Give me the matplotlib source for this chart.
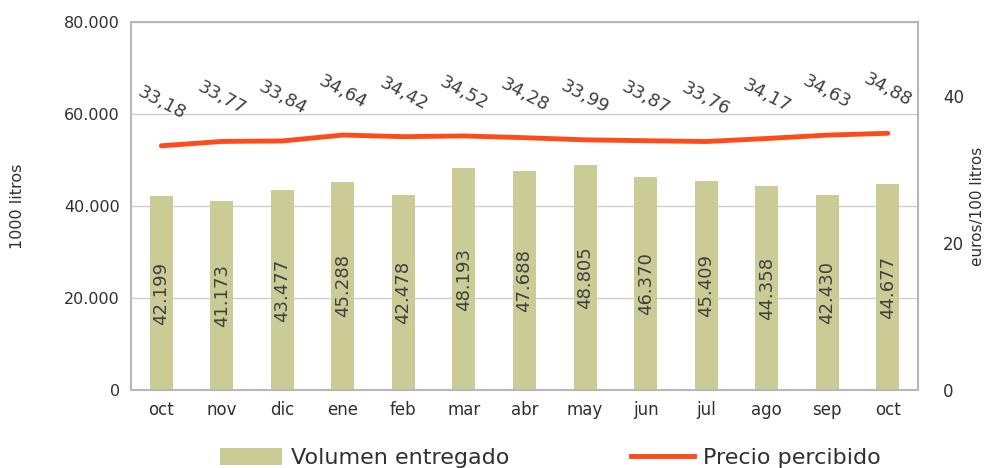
import matplotlib
matplotlib.use("Agg")
import matplotlib.pyplot as plt
from matplotlib.lines import Line2D
from matplotlib.patches import Patch

months = ["oct", "nov", "dic", "ene", "feb", "mar", "abr", "may", "jun", "jul", "ago", "sep", "oct"]
volumen = [42199, 41173, 43477, 45288, 42478, 48193, 47688, 48805, 46370, 45409, 44358, 42430, 44677]
precio = [33.18, 33.77, 33.84, 34.64, 34.42, 34.52, 34.28, 33.99, 33.87, 33.76, 34.17, 34.63, 34.88]

left_ticks = [0, 20000, 40000, 60000, 80000]
left_ticklabels = ["0", "20.000", "40.000", "60.000", "80.000"]
right_ticks = [0, 20, 40]

bar_color = "#CBCB96"
line_color = "#FF4A1C"
text_color = "#303030"
grid_color = "#D0D0D0"
spine_color = "#B8B8B8"

plt.rcParams["font.family"] = ["DejaVu Sans"]

fig = plt.figure(figsize=(9.91, 4.68), dpi=100)
ax = fig.add_axes([131/991, 1 - 390/468, (918-131)/991, (390-22)/468])
x = list(range(len(months)))

ax.bar(x, volumen, width=0.38, color=bar_color, zorder=2)
ax.set_xlim(-0.5, len(months) - 0.5)
ax.set_ylim(0, 80000)
ax.set_yticks(left_ticks)
ax.set_yticklabels(left_ticklabels, fontsize=11.5, color=text_color)
ax.set_xticks(x)
ax.set_xticklabels(months, fontsize=12, color=text_color)
ax.tick_params(axis="both", length=0, pad=8)
ax.yaxis.grid(True, color=grid_color, lw=1, zorder=0)
for s in ax.spines.values():
    s.set_color(spine_color)
    s.set_linewidth(1.5)
ax.set_ylabel("1000 litros", fontsize=11.5, color=text_color, labelpad=28)

for xi, v in zip(x, volumen):
    ax.text(xi, v / 2, f"{v/1000:.3f}", rotation=90, ha="center", va="center",
            fontsize=13, color="#404040", zorder=3)

ax2 = ax.twinx()
ax2.plot(x, precio, color=line_color, lw=3.5, solid_capstyle="round", zorder=4)
ax2.set_ylim(0, 50)
ax2.set_yticks(right_ticks)
ax2.set_yticklabels([str(t) for t in right_ticks], fontsize=12, color=text_color)
ax2.tick_params(axis="y", length=0, pad=18)
for s in ax2.spines.values():
    s.set_visible(False)
ax2.set_ylabel("euros/100 litros", fontsize=11, color=text_color, labelpad=4)

for xi, p in zip(x, precio):
    ax2.annotate(f"{p:.2f}".replace(".", ","), (xi, p), xytext=(0, 31),
                 textcoords="offset points", rotation=-28, ha="center", va="center",
                 fontsize=13, color="#404040")

handles = [Patch(facecolor=bar_color, edgecolor="none"),
           Line2D([0], [0], color=line_color, lw=3.5)]
fig.legend(handles, ["Volumen entregado", "Precio percibido"], loc="center",
           bbox_to_anchor=(0.555, 0.022), ncol=2, frameon=False, fontsize=16,
           handlelength=2.8, handleheight=0.8, handletextpad=0.4,
           columnspacing=5.5, labelcolor=text_color)

fig.savefig("out.png", dpi=100)
